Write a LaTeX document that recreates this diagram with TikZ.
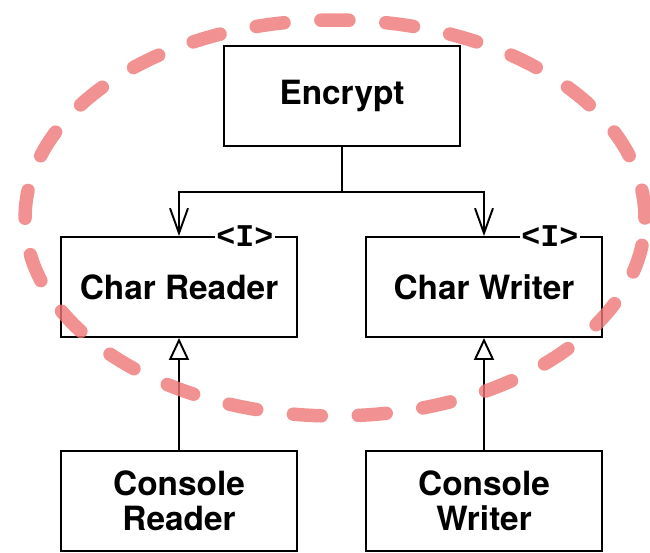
\documentclass[tikz,border=0pt]{standalone}
\usepackage{fontspec}
\setmainfont{TeX Gyre Heros}
\newfontfamily\ifacefont{Liberation Mono}
\usetikzlibrary{arrows.meta,positioning}
\definecolor{ringred}{RGB}{238,118,118}

\begin{document}
\begin{tikzpicture}[x=0.02cm,y=-0.02cm,
  box/.style={draw,line width=1.1pt,minimum width=4.72cm,minimum height=2cm,
    align=center,font=\fontsize{19}{20}\selectfont\bfseries},
  iface/.style={fill=white,inner sep=1pt,font=\ifacefont\bfseries\fontsize{18}{18}\selectfont},
  uses/.style={line width=1.1pt,-{Straight Barb[length=0.5cm,width=0.36cm,line width=1.1pt]}},
  realizes/.style={line width=1.1pt,-{Triangle[open,length=0.44cm,width=0.4cm,line width=1.1pt]}}]
\useasboundingbox (0,0) rectangle (650,552);
% classes
\node[box] (encrypt) at (342,96) {Encrypt};
\node[box] (reader) at (179,287) {Char Reader};
\node[box] (writer) at (484,287) {Char Writer};
\node[box] (creader) at (179,501) {Console\\Reader};
\node[box] (cwriter) at (484,501) {Console\\Writer};
% interface tags
\node[iface] (rtag) at ([xshift=-1.06cm]reader.north east) {<I>};
\node[iface] (wtag) at ([xshift=-1.06cm]writer.north east) {<I>};
% connectors
\coordinate (split) at ([yshift=-0.9cm]encrypt.south);
\draw[uses] (encrypt.south) -- (split) -| (reader.north);
\draw[uses] (split) -| (writer.north);
\draw[realizes] (creader.north) -- (reader.south);
\draw[realizes] (cwriter.north) -- (writer.south);
% ring
\draw[ringred,opacity=0.8,line width=0.27cm,line cap=round,
      dash pattern=on 0.56cm off 0.74cm]
  (335,218) ellipse [x radius=6.2cm,y radius=3.96cm];
\end{tikzpicture}
\end{document}
